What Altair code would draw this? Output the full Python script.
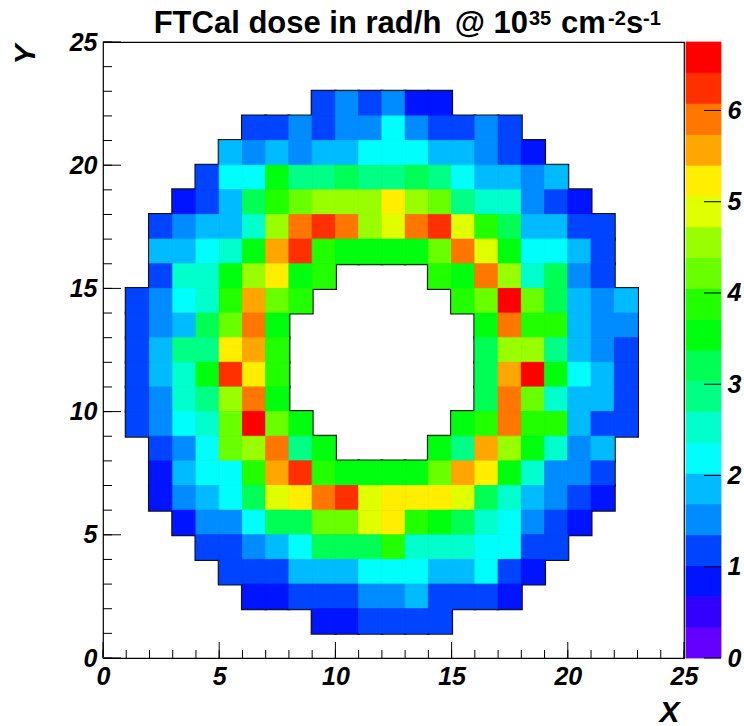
import colorsys
import altair as alt
import pandas as pd

# ---------------- data ----------------
N = None  # empty cell (hole of the calorimeter)
ZMAX = 6.75          # top of the colour scale (histogram maximum)
NCONT = 20           # number of colour contours

# each row: y bin -> first x bin, then dose values (rad/h) of consecutive x bins
ROW_START = {22: 9, 21: 6, 20: 5, 19: 4, 18: 3, 17: 2, 16: 2, 15: 2, 14: 1, 13: 1,
             12: 1, 11: 1, 10: 1, 9: 1, 8: 2, 7: 2, 6: 2, 5: 3, 4: 4, 3: 5, 2: 6, 1: 9}

row_22 = [1.18, 1.52, 1.18, 1.52, 0.84, 0.84]
row_21 = [1.18, 1.18, 1.52, 1.18, 1.52, 1.52, 2.19, 1.52, 1.18, 1.18, 1.52, 1.18]
row_20 = [1.86, 1.52, 1.86, 1.52, 1.86, 1.86, 2.19, 2.19, 2.19, 1.86, 1.86, 1.52, 1.18, 0.84]
row_19 = [1.18, 2.19, 2.19, 3.54, 2.87, 2.87, 3.21, 2.87, 2.87, 3.21, 2.87, 2.19, 1.86, 1.86, 1.52, 1.86]
row_18 = [0.84, 1.18, 1.86, 3.21, 3.88, 4.22, 4.56, 4.56, 4.56, 5.23, 4.56, 4.22, 2.87, 2.53, 2.53, 1.52, 1.18, 0.84]
row_17 = [1.18, 1.52, 1.86, 1.86, 2.53, 4.56, 5.91, 6.24, 5.91, 4.56, 4.89, 5.91, 6.24, 4.89, 3.88, 3.21, 1.86, 1.86, 1.18, 1.18]
row_16 = [1.86, 1.86, 2.19, 2.53, 3.54, 5.57, 6.24, 3.88, 3.54, 3.54, 3.54, 3.54, 4.22, 5.91, 4.89, 3.54, 2.19, 2.19, 1.86, 1.18]
row_15 = [1.18, 2.53, 2.53, 3.54, 4.56, 5.23, 3.54, 3.88, N, N, N, N, 3.88, 3.54, 5.91, 4.56, 2.53, 3.21, 1.52, 1.18]
row_14 = [1.18, 1.52, 2.19, 2.53, 3.88, 5.57, 4.22, 3.88, N, N, N, N, N, N, 3.88, 4.22, 6.75, 4.22, 3.21, 1.86, 1.52, 1.86]
row_13 = [1.18, 1.52, 1.86, 3.21, 4.22, 5.91, 3.54, N, N, N, N, N, N, N, N, 3.54, 5.91, 3.88, 3.88, 1.86, 1.52, 1.52]
row_12 = [1.18, 1.86, 2.87, 2.87, 5.23, 5.57, 3.88, N, N, N, N, N, N, N, N, 3.21, 4.56, 4.56, 2.87, 1.86, 1.52, 1.18]
row_11 = [1.18, 1.86, 2.53, 3.54, 6.24, 5.23, 3.88, N, N, N, N, N, N, N, N, 3.21, 5.57, 6.58, 3.54, 2.19, 1.86, 1.18]
row_10 = [1.18, 1.52, 2.53, 2.87, 4.56, 5.91, 3.54, N, N, N, N, N, N, N, N, 3.21, 5.91, 4.22, 2.53, 1.86, 1.86, 1.18]
row_9 = [1.18, 1.52, 2.19, 2.53, 4.22, 6.58, 4.22, 3.54, N, N, N, N, N, N, 3.54, 3.88, 5.91, 3.88, 3.88, 1.86, 1.18, 1.18]
row_8 = [1.18, 1.52, 2.19, 4.22, 4.56, 5.91, 2.87, 3.54, N, N, N, N, 3.54, 2.87, 5.57, 4.56, 3.54, 2.53, 1.52, 1.86]
row_7 = [0.84, 1.86, 2.19, 2.19, 3.88, 5.57, 6.24, 3.88, 3.54, 3.54, 3.54, 3.54, 4.22, 5.57, 5.23, 3.54, 2.53, 1.52, 1.52, 1.18]
row_6 = [0.84, 1.52, 1.86, 2.19, 3.21, 4.89, 5.23, 5.91, 6.24, 4.89, 5.23, 5.23, 5.23, 4.89, 3.21, 2.53, 1.86, 1.52, 1.18, 0.84]
row_5 = [0.84, 1.52, 1.52, 2.19, 3.21, 3.21, 4.22, 4.22, 4.89, 5.23, 3.88, 3.54, 3.21, 2.53, 2.19, 1.52, 1.18, 0.84]
row_4 = [1.18, 1.18, 1.52, 1.86, 2.19, 3.21, 3.21, 3.21, 3.88, 2.53, 2.53, 2.53, 2.19, 2.19, 1.18, 1.18]
row_3 = [1.18, 1.18, 1.18, 1.86, 1.86, 1.86, 2.19, 2.19, 2.19, 1.86, 1.86, 2.19, 1.18, 0.84]
row_2 = [0.84, 0.84, 1.18, 1.18, 1.18, 1.52, 1.52, 1.86, 1.18, 1.18, 1.18, 0.84]
row_1 = [0.84, 0.84, 1.18, 1.18, 1.18, 1.18]

ROWS = {22: row_22, 21: row_21, 20: row_20, 19: row_19, 18: row_18, 17: row_17,
        16: row_16, 15: row_15, 14: row_14, 13: row_13, 12: row_12, 11: row_11,
        10: row_10, 9: row_9, 8: row_8, 7: row_7, 6: row_6, 5: row_5, 4: row_4,
        3: row_3, 2: row_2, 1: row_1}

X_MAJOR = [0, 5, 10, 15, 20, 25]
X_MINOR = list(range(0, 26))
Y_MAJOR = [0, 5, 10, 15, 20, 25]
Y_MINOR = list(range(0, 26))
Z_TICKS = [0, 1, 2, 3, 4, 5, 6]

# title pieces: (text, superscript?)
TITLE_PARTS = [("FTCal dose in rad/h", False), ("@ 10", False), ("35", True),
               ("cm", False), ("-2", True), ("s", False), ("-1", True)]

# ---------------- tables ----------------
recs = []
for yb, vals in ROWS.items():
    x0 = ROW_START[yb]
    for i, v in enumerate(vals):
        if v is None:
            continue
        recs.append({"x0": x0 + i, "x1": x0 + i + 1, "y0": yb, "y1": yb + 1, "v": v})
cells_df = pd.DataFrame(recs)

# ROOT "pretty palette" (50 colours) sampled by 20 contours
pal = []
for i in range(50):
    hue = 280.0 - (i + 1) * (280.0 / 50)
    r, g, b = colorsys.hls_to_rgb(hue / 360.0, 0.5, 1.0)
    pal.append("#%02x%02x%02x" % (round(r * 255), round(g * 255), round(b * 255)))
band_colors = [pal[int((k + 0.99) * 50 / NCONT)] for k in range(NCONT)]
thresholds = [ZMAX * k / NCONT for k in range(1, NCONT)]

bands_df = pd.DataFrame({
    "lo": [ZMAX * k / NCONT for k in range(NCONT)],
    "hi": [ZMAX * (k + 1) / NCONT for k in range(NCONT)],
    "mid": [ZMAX * (k + 0.5) / NCONT for k in range(NCONT)],
})

FONT = "Liberation Sans"
cscale = alt.Scale(type="threshold", domain=thresholds, range=band_colors)
xscale = alt.Scale(domain=[0, 25], nice=False, zero=False)
yscale = alt.Scale(domain=[0, 25], nice=False, zero=False)
zscale = alt.Scale(domain=[0, ZMAX], nice=False, zero=False)

lab = dict(labelFont=FONT, labelFontSize=25, labelFontWeight="bold",
           labelFontStyle="italic", labelColor="black", ticks=False,
           domain=False, grid=False, labelOverlap=False, labelFlush=False,
           labelBound=False)
ttl = dict(titleFont=FONT, titleFontSize=30, titleFontWeight="bold",
           titleFontStyle="italic", titleColor="black")

ax_x = alt.Axis(values=X_MAJOR, title="X", labelPadding=6, titleX=566, titleY=63,
                titleAlign="center", titleBaseline="alphabetic", **lab, **ttl)
ax_y = alt.Axis(values=Y_MAJOR, title="Y", labelPadding=6, titleX=-78, titleY=2,
                titleAngle=270, titleAlign="right", titleBaseline="middle",
                **lab, **ttl)
ax_z = alt.Axis(values=Z_TICKS, title=None, orient="right", offset=37,
                labelPadding=6, labelAlign="left", **lab)

outline = alt.Chart(cells_df).mark_rect(fillOpacity=0, stroke="#111111", strokeWidth=3).encode(
    x=alt.X("x0:Q", scale=xscale, axis=ax_x), x2="x1:Q",
    y=alt.Y("y0:Q", scale=yscale, axis=ax_y), y2="y1:Q")

cells = alt.Chart(cells_df).mark_rect(strokeWidth=0.8).encode(
    x=alt.X("x0:Q", scale=xscale, axis=ax_x), x2="x1:Q",
    y=alt.Y("y0:Q", scale=yscale, axis=ax_y), y2="y1:Q",
    color=alt.Color("v:Q", scale=cscale, legend=None),
    stroke=alt.Stroke("v:Q", scale=cscale, legend=None))

xt_major = alt.Chart(pd.DataFrame({"t": X_MAJOR})).mark_rule(color="black", strokeWidth=1).encode(
    x=alt.X("t:Q", scale=xscale, axis=ax_x), y=alt.value(616), y2=alt.value(600))
xt_minor = alt.Chart(pd.DataFrame({"t": X_MINOR})).mark_rule(color="black", strokeWidth=1).encode(
    x=alt.X("t:Q", scale=xscale, axis=ax_x), y=alt.value(616), y2=alt.value(608))
yt_major = alt.Chart(pd.DataFrame({"t": Y_MAJOR})).mark_rule(color="black", strokeWidth=1).encode(
    y=alt.Y("t:Q", scale=yscale, axis=ax_y), x=alt.value(0), x2=alt.value(18))
yt_minor = alt.Chart(pd.DataFrame({"t": Y_MINOR})).mark_rule(color="black", strokeWidth=1).encode(
    y=alt.Y("t:Q", scale=yscale, axis=ax_y), x=alt.value(0), x2=alt.value(9))

# title composed of normal and superscript pieces (layout positions in px,
# relative to the plot's left edge)
L = 103
title_pos = [((145 + 450) / 2 - L, "center"), (528 - L, "right"), (529 - L, "left"),
             (561 - L, "left"), (608 - L, "left"), (626 - L, "left"), (643 - L, "left")]
title_layers = []
for (txt, sup), (px, al) in zip(TITLE_PARTS, title_pos):
    title_layers.append(
        alt.Chart(pd.DataFrame({"s": [txt]})).mark_text(
            font=FONT, fontWeight="bold", fontSize=20 if sup else 31,
            align=al, baseline="alphabetic", color="black"
        ).encode(text="s:N", x=alt.value(px), y=alt.value(-17 if sup else -9))
    )

main = alt.layer(outline, cells, xt_major, xt_minor, yt_major, yt_minor, *title_layers)

bar = alt.Chart(bands_df).mark_rect(strokeWidth=0.8).encode(
    y=alt.Y("lo:Q", scale=zscale, axis=ax_z), y2="hi:Q",
    x=alt.value(583), x2=alt.value(618),
    color=alt.Color("mid:Q", scale=cscale, legend=None),
    stroke=alt.Stroke("mid:Q", scale=cscale, legend=None))
bar_ticks = alt.Chart(pd.DataFrame({"t": Z_TICKS})).mark_rule(color="black", strokeWidth=1).encode(
    y=alt.Y("t:Q", scale=zscale, axis=ax_z), x=alt.value(601), x2=alt.value(618))

cbar = alt.layer(bar, bar_ticks)

chart = alt.layer(main, cbar).resolve_scale(y="independent").properties(
    width=581, height=616,
    padding={"left": 103, "top": 42, "right": 60, "bottom": 68},
    autosize=alt.AutoSizeParams(type="none"),
    background="white",
).configure_view(stroke="black", strokeWidth=1.2)

chart.save("out.html", embed_options={"renderer": "svg", "actions": False})
